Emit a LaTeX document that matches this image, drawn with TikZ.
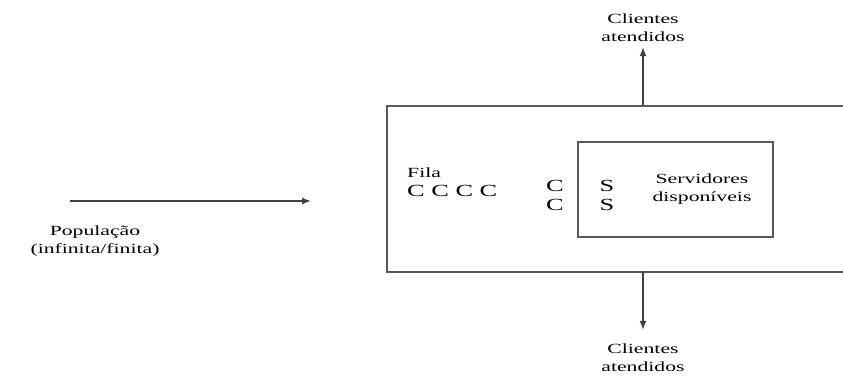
\documentclass[tikz,border=0pt]{standalone}
\usepackage{fontspec}
\newfontfamily\widefont[FakeStretch=1.55]{Liberation Serif}
\usetikzlibrary{arrows.meta}

\begin{document}
\begin{tikzpicture}[x=1pt,y=-1pt,
  box/.style={draw=black!65,line width=1.5pt},
  flow/.style={draw=black!75,line width=1.4pt,-{Latex[length=9pt,width=7pt]}},
  lbl/.style={font=\widefont\fontsize{14}{18}\selectfont,align=center,inner sep=0pt,text=black},
  big/.style={font=\widefont\fontsize{17}{20}\selectfont,inner sep=0pt,text=black}]
\useasboundingbox (0,0) rectangle (843,376);
% sistema de filas
\node[box,minimum width=464pt,minimum height=166pt,anchor=north west,inner sep=0pt] (sistema) at (386,105) {};
\node[box,minimum width=195pt,minimum height=95pt,anchor=north west,inner sep=0pt] (servico) at (577,141) {};
% fila
\node[lbl,anchor=west] (fila) at (407,173) {Fila};
\node[big,anchor=west] (clientes) at (407,191) {C C C C};
\node[big] (c1) at (555,186) {C};
\node[big] (c2) at (555,205) {C};
% servidores
\node[big] (s1) at (607,186) {S};
\node[big] (s2) at (607,205) {S};
\node[lbl] (serv) at (702,189) {Servidores\\dispon\'iveis};
% populacao
\node[lbl] (pop) at (95,241) {Popula\c{c}\~ao\\(infinita/finita)};
\coordinate (inicio) at (70,201);
\coordinate (entrada) at (311,201);
\draw[flow] (inicio) -- (entrada);
% clientes atendidos
\node[lbl] (atend1) at (643,28) {Clientes\\atendidos};
\node[lbl] (atend2) at (643,358) {Clientes\\atendidos};
\coordinate (saida1) at (643,105);
\coordinate (saida2) at (643,271);
\draw[flow,shorten >=5pt] (saida1) -- (atend1);
\draw[flow,shorten >=14pt] (saida2) -- (atend2);
\end{tikzpicture}
\end{document}
